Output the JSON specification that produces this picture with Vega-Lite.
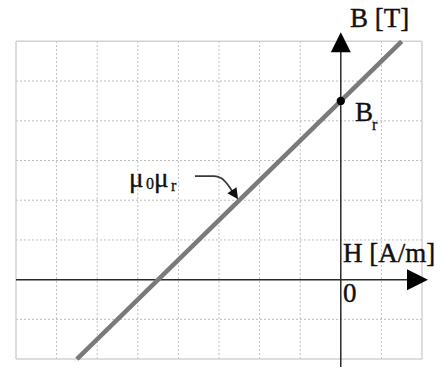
{
  "$schema": "https://vega.github.io/schema/vega-lite/v6.json",
  "width": 442,
  "height": 369,
  "padding": 0,
  "autosize": {"type": "fit", "contains": "padding"},
  "background": "white",
  "config": {"view": {"stroke": null}},
  "datasets": {
    "innergrid": [
      {"x": -7, "y": -2, "x2": -7, "y2": 6},
      {"x": -6, "y": -2, "x2": -6, "y2": 6},
      {"x": -5, "y": -2, "x2": -5, "y2": 6},
      {"x": -4, "y": -2, "x2": -4, "y2": 6},
      {"x": -3, "y": -2, "x2": -3, "y2": 6},
      {"x": -2, "y": -2, "x2": -2, "y2": 6},
      {"x": -1, "y": -2, "x2": -1, "y2": 6},
      {"x": 1, "y": -2, "x2": 1, "y2": 6},
      {"x": -8, "y": -1, "x2": 2, "y2": -1},
      {"x": -8, "y": 1, "x2": 2, "y2": 1},
      {"x": -8, "y": 2, "x2": 2, "y2": 2},
      {"x": -8, "y": 3, "x2": 2, "y2": 3},
      {"x": -8, "y": 4, "x2": 2, "y2": 4},
      {"x": -8, "y": 5, "x2": 2, "y2": 5}
    ],
    "border": [
      {"x": -8, "y": -2, "x2": -8, "y2": 6},
      {"x": 2, "y": -2, "x2": 2, "y2": 6},
      {"x": -8, "y": -2, "x2": 2, "y2": -2},
      {"x": -8, "y": 6, "x2": 2, "y2": 6}
    ],
    "axes": [
      {"x": -8, "y": 0, "x2": 1.7, "y2": 0},
      {"x": 0, "y": -2.2, "x2": 0, "y2": 5.85}
    ],
    "curve": [
      {"x": -6.5, "y": -2},
      {"x": 1.5, "y": 6}
    ],
    "point": [
      {"x": 0, "y": 4.5}
    ],
    "annot": [
      {"x": -3.591, "y": 2.608},
      {"x": -3.123, "y": 2.608},
      {"x": -2.951, "y": 2.558},
      {"x": -2.778, "y": 2.385},
      {"x": -2.640, "y": 2.170}
    ],
    "annotHead": [
      {"x": -2.606, "y": 2.137}
    ],
    "upArrow": [
      {"x": 0, "y": 5.976}
    ],
    "rightArrow": [
      {"x": 1.889, "y": 0}
    ],
    "labels": [
      {"text": "B [T]", "x": 0.227, "y": 6.35, "kind": "label"},
      {"text": "B", "x": 0.35, "y": 3.995, "kind": "label"},
      {"text": "r", "x": 0.768, "y": 3.77, "kind": "sub"},
      {"text": "H [A/m]", "x": 0.054, "y": 0.453, "kind": "label"},
      {"text": "0", "x": 0.054, "y": -0.562, "kind": "label"},
      {"text": "μ", "x": -5.217, "y": 2.331, "kind": "symbol"},
      {"text": "0", "x": -4.798, "y": 2.282, "kind": "sub"},
      {"text": "μ", "x": -4.601, "y": 2.331, "kind": "symbol"},
      {"text": "r", "x": -4.182, "y": 2.232, "kind": "sub"}
    ]
  },
  "encoding": {
    "x": {"field": "x", "type": "quantitative", "scale": {"domain": [-8.394, 2.493], "nice": false, "zero": false}, "axis": null},
    "y": {"field": "y", "type": "quantitative", "scale": {"domain": [-2.098, 7.041], "nice": false, "zero": false}, "axis": null}
  },
  "layer": [
    {
      "data": {"name": "innergrid"},
      "mark": {"type": "rule", "color": "#bdbdbd", "strokeWidth": 1, "strokeDash": [2, 2]},
      "encoding": {"x2": {"field": "x2"}, "y2": {"field": "y2"}}
    },
    {
      "data": {"name": "border"},
      "mark": {"type": "rule", "color": "#d2d2d2", "strokeWidth": 1.5},
      "encoding": {"x2": {"field": "x2"}, "y2": {"field": "y2"}}
    },
    {
      "data": {"name": "axes"},
      "mark": {"type": "rule", "color": "#2a2a2a", "strokeWidth": 1.5},
      "encoding": {"x2": {"field": "x2"}, "y2": {"field": "y2"}}
    },
    {
      "data": {"name": "upArrow"},
      "mark": {"type": "point", "shape": "M-1,1L0,-1L1,1Z", "size": 400, "filled": true, "color": "#000000", "opacity": 1}
    },
    {
      "data": {"name": "rightArrow"},
      "mark": {"type": "point", "shape": "M-1,-1L1,0L-1,1Z", "size": 441, "filled": true, "color": "#000000", "opacity": 1}
    },
    {
      "data": {"name": "curve"},
      "mark": {"type": "line", "color": "#7a7a7a", "strokeWidth": 4.5, "strokeCap": "butt"}
    },
    {
      "data": {"name": "point"},
      "mark": {"type": "point", "shape": "circle", "size": 70, "filled": true, "color": "#000000", "opacity": 1}
    },
    {
      "data": {"name": "annot"},
      "mark": {"type": "line", "color": "#3a3a3a", "strokeWidth": 1.8, "interpolate": "monotone"}
    },
    {
      "data": {"name": "annotHead"},
      "mark": {"type": "point", "shape": "M-1,1L0,-1L1,1Z", "angle": 146, "size": 120, "filled": true, "color": "#111111", "opacity": 1}
    },
    {
      "data": {"name": "labels"},
      "transform": [{"filter": {"field": "kind", "equal": "label"}}],
      "mark": {"type": "text", "font": "Liberation Serif", "fontSize": 27, "align": "left", "baseline": "alphabetic", "color": "#111111", "stroke": "#111111", "strokeWidth": 0.4},
      "encoding": {"text": {"field": "text"}}
    },
    {
      "data": {"name": "labels"},
      "transform": [{"filter": {"field": "kind", "equal": "symbol"}}],
      "mark": {"type": "text", "font": "Liberation Serif", "fontSize": 27, "align": "left", "baseline": "alphabetic", "color": "#111111", "stroke": "#111111", "strokeWidth": 0.4},
      "encoding": {"text": {"field": "text"}}
    },
    {
      "data": {"name": "labels"},
      "transform": [{"filter": {"field": "kind", "equal": "sub"}}],
      "mark": {"type": "text", "font": "Liberation Serif", "fontSize": 16, "align": "left", "baseline": "alphabetic", "color": "#111111", "stroke": "#111111", "strokeWidth": 0.3},
      "encoding": {"text": {"field": "text"}}
    }
  ]
}
